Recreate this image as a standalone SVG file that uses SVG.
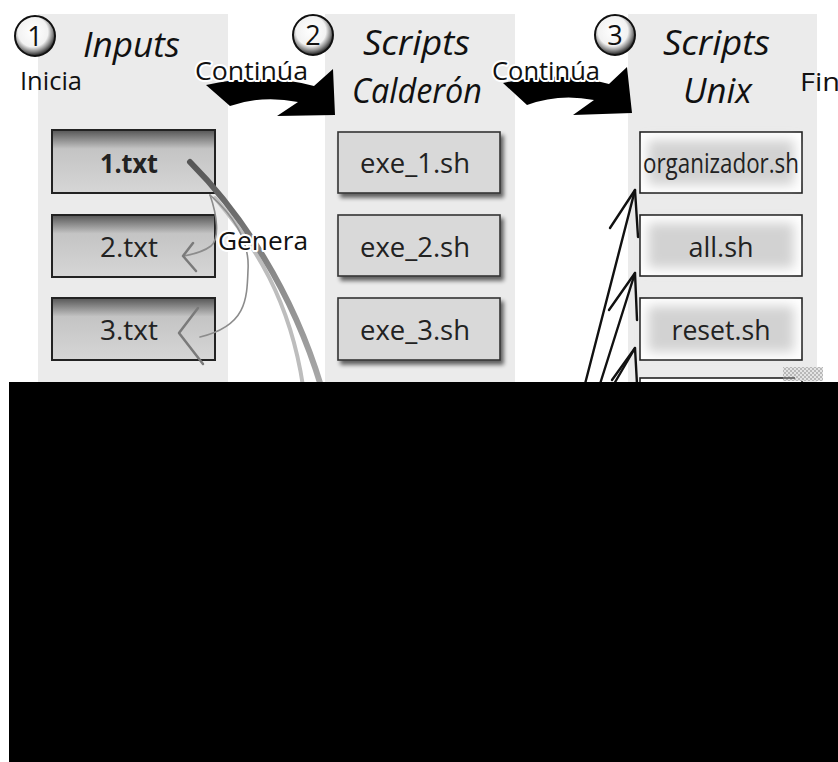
<svg xmlns="http://www.w3.org/2000/svg" width="838" height="762" viewBox="0 0 838 762">
  <defs>
    <style>
      .panel { fill: #ebebeb; }
      .title { font-family: "Open Sans", "Liberation Sans", sans-serif; font-style: italic; font-size: 34px; fill: #111; }
      .lbl { font-family: "Open Sans", "Liberation Sans", sans-serif; font-size: 26px; fill: #111; }
      .halo { stroke: #fff; stroke-width: 4px; stroke-linejoin: round; paint-order: stroke; }
      .num { font-family: "Open Sans", "Liberation Sans", sans-serif; font-size: 27px; fill: #111; text-anchor: middle; }
      .node-text { font-family: "Open Sans", "Liberation Sans", sans-serif; font-size: 27px; fill: #222; text-anchor: middle; }
      .in-box { fill: url(#inputFill); stroke: #222; stroke-width: 2; }
      .cal-box { fill: #d9d9d9; stroke: #333; stroke-width: 1.6; filter: url(#dropShadow); }
      .unix-box { fill: #fff; stroke: #222; stroke-width: 1.6; }
      .unix-glow { fill: #d2d2d2; filter: url(#softBlur); }
      .gen { fill: none; stroke: #8c8c8c; stroke-width: 1.6; stroke-linecap: round; }
      .gen-head { fill: none; stroke: #7a7a7a; stroke-width: 2.5; stroke-linecap: round; stroke-linejoin: round; }
      .up-arrow { fill: none; stroke: #111; stroke-width: 2.4; stroke-linecap: round; stroke-linejoin: round; }
    </style>
    <linearGradient id="inputFill" x1="0" y1="0" x2="0" y2="1">
      <stop offset="0" stop-color="#555"/>
      <stop offset="0.3" stop-color="#c4c4c4"/>
      <stop offset="1" stop-color="#d6d6d6"/>
    </linearGradient>
    <radialGradient id="ball" cx="0.45" cy="0.4" r="0.6">
      <stop offset="0" stop-color="#fff"/>
      <stop offset="0.62" stop-color="#f2f2f2"/>
      <stop offset="0.82" stop-color="#8a8a8a"/>
      <stop offset="1" stop-color="#1e1e1e"/>
    </radialGradient>
    <linearGradient id="trail" x1="0" y1="0" x2="0" y2="1">
      <stop offset="0" stop-color="#555"/>
      <stop offset="0.5" stop-color="#8a8a8a"/>
      <stop offset="1" stop-color="#a8a8a8"/>
    </linearGradient>
    <filter id="dropShadow" x="-10%" y="-10%" width="130%" height="140%">
      <feGaussianBlur in="SourceAlpha" stdDeviation="2"/>
      <feOffset dx="3" dy="4" result="s"/>
      <feComponentTransfer><feFuncA type="linear" slope="0.6"/></feComponentTransfer>
      <feMerge><feMergeNode/><feMergeNode in="SourceGraphic"/></feMerge>
    </filter>
    <filter id="softBlur" x="-20%" y="-30%" width="140%" height="160%">
      <feGaussianBlur stdDeviation="6"/>
    </filter>
    <pattern id="checker" width="4" height="4" patternUnits="userSpaceOnUse">
      <rect width="4" height="4" fill="#e4e4e4"/>
      <rect width="2" height="2" fill="#b8b8b8"/>
      <rect x="2" y="2" width="2" height="2" fill="#b8b8b8"/>
    </pattern>
  </defs>

  <rect width="838" height="762" fill="#fff"/>

  <!-- column backgrounds -->
  <rect class="panel" x="38" y="14" width="190" height="370"/>
  <rect class="panel" x="325" y="14" width="190" height="370"/>
  <rect class="panel" x="628" y="14" width="189" height="370"/>

  <!-- column headers -->
  <g id="header-inputs">
    <circle cx="35" cy="36" r="20" fill="url(#ball)" stroke="#111" stroke-width="2"/>
    <text class="num" x="35" y="46">1</text>
    <text class="title" x="83" y="57" textLength="97" lengthAdjust="spacingAndGlyphs">Inputs</text>
  </g>
  <g id="header-calderon">
    <circle cx="313" cy="35" r="20" fill="url(#ball)" stroke="#111" stroke-width="2"/>
    <text class="num" x="313" y="45">2</text>
    <text class="title" x="363" y="55" textLength="107" lengthAdjust="spacingAndGlyphs">Scripts</text>
    <text class="title" x="352" y="103" textLength="130" lengthAdjust="spacingAndGlyphs">Calderón</text>
  </g>
  <g id="header-unix">
    <circle cx="615" cy="35" r="20" fill="url(#ball)" stroke="#111" stroke-width="2"/>
    <text class="num" x="615" y="45">3</text>
    <text class="title" x="663" y="55" textLength="107" lengthAdjust="spacingAndGlyphs">Scripts</text>
    <text class="title" x="683" y="103" textLength="69" lengthAdjust="spacingAndGlyphs">Unix</text>
  </g>

  <text class="lbl" x="20" y="90" textLength="62" lengthAdjust="spacingAndGlyphs">Inicia</text>
  <text class="lbl" x="800" y="91" textLength="40" lengthAdjust="spacingAndGlyphs">Fin</text>

  <!-- Inputs column -->
  <g id="node-1-txt">
    <rect class="in-box" x="52" y="130" width="163" height="63" stroke-width="3.5" stroke="#111"/>
    <text class="node-text" x="129" y="173" font-weight="bold" textLength="58" lengthAdjust="spacingAndGlyphs">1.txt</text>
  </g>
  <g id="node-2-txt">
    <rect class="in-box" x="52" y="215" width="163" height="62"/>
    <text class="node-text" x="129" y="257" textLength="58" lengthAdjust="spacingAndGlyphs">2.txt</text>
  </g>
  <g id="node-3-txt">
    <rect class="in-box" x="52" y="298" width="163" height="62"/>
    <text class="node-text" x="129" y="340" textLength="58" lengthAdjust="spacingAndGlyphs">3.txt</text>
  </g>

  <!-- Calderón scripts column -->
  <g id="node-exe-1">
    <rect class="cal-box" x="338" y="132" width="162" height="61"/>
    <text class="node-text" x="415" y="173" textLength="110" lengthAdjust="spacingAndGlyphs">exe_1.sh</text>
  </g>
  <g id="node-exe-2">
    <rect class="cal-box" x="338" y="215" width="162" height="61"/>
    <text class="node-text" x="415" y="257" textLength="110" lengthAdjust="spacingAndGlyphs">exe_2.sh</text>
  </g>
  <g id="node-exe-3">
    <rect class="cal-box" x="338" y="298" width="162" height="62"/>
    <text class="node-text" x="415" y="340" textLength="110" lengthAdjust="spacingAndGlyphs">exe_3.sh</text>
  </g>

  <!-- Unix scripts column -->
  <g id="node-organizador">
    <rect class="unix-box" x="640" y="132" width="162" height="61"/>
    <rect class="unix-glow" x="648" y="140" width="146" height="45"/>
    <text class="node-text" x="721" y="173" textLength="156" lengthAdjust="spacingAndGlyphs">organizador.sh</text>
  </g>
  <g id="node-all">
    <rect class="unix-box" x="640" y="215" width="162" height="61"/>
    <rect class="unix-glow" x="648" y="223" width="146" height="45"/>
    <text class="node-text" x="721" y="257" textLength="65" lengthAdjust="spacingAndGlyphs">all.sh</text>
  </g>
  <g id="node-reset">
    <rect class="unix-box" x="640" y="298" width="162" height="62"/>
    <rect class="unix-glow" x="648" y="306" width="146" height="46"/>
    <text class="node-text" x="721" y="340" textLength="99" lengthAdjust="spacingAndGlyphs">reset.sh</text>
  </g>
  <g id="node-unix-4">
    <rect class="unix-box" x="640" y="378" width="162" height="40"/>
  </g>

  <!-- connectors -->
  <g id="connectors">
    <!-- step arrows between columns -->
    <path id="step-1-2" d="M206,85 Q262,72 314,86 L333,69 L335,115 L277,116 L298,102 Q262,95 230,106 Z" fill="#000"/>
    <text class="lbl halo" x="195" y="80" textLength="113" lengthAdjust="spacingAndGlyphs">Continúa</text>
    <path id="step-2-3" d="M503,83 Q559,70 609,84 L627,67 L632,113 L573,115 L594,100 Q559,93 527,105 Z" fill="#000"/>
    <text class="lbl halo" x="492" y="80" textLength="108" lengthAdjust="spacingAndGlyphs">Continúa</text>

    <!-- trail leaving 1.txt -->
    <path d="M215,198 C255,245 290,300 303,386" fill="none" stroke="#bdbdbd" stroke-width="4" stroke-linecap="round"/>
    <path d="M190,162 C240,212 292,290 321,386" fill="none" stroke="url(#trail)" stroke-width="6" stroke-linecap="round"/>

    <!-- "Genera" links -->
    <path class="gen" d="M210,195 C217,215 220,238 211,246 C203,252 195,254 184,256"/>
    <path class="gen-head" d="M193,243 L183,256 L196,271"/>
    <path class="gen" d="M210,195 C232,214 250,240 248,270 C247,300 246,326 200,337"/>
    <path class="gen-head" d="M198,308 L179,333 L203,364"/>
    <text class="lbl halo" x="218" y="250" textLength="90" lengthAdjust="spacingAndGlyphs">Genera</text>

    <!-- arrows rising into the Unix column -->
    <path class="up-arrow" d="M585,384 L635,190"/>
    <path class="up-arrow" d="M610,228 L635,190 L638,237"/>
    <path class="up-arrow" d="M600,384 L635,273"/>
    <path class="up-arrow" d="M609,310 L635,273 L637,320"/>
    <path class="up-arrow" d="M614,384 L635,348"/>
    <path class="up-arrow" d="M612,380 L635,348 L637,384"/>
  </g>

  <!-- small textured patch near the lower right -->
  <rect x="783" y="367" width="40" height="14" fill="url(#checker)"/>
  <line x1="783" y1="378" x2="795" y2="378" stroke="#555" stroke-width="1.5"/>

  <!-- black band over the lower part -->
  <rect x="9" y="382" width="829" height="380" fill="#000"/>
</svg>
